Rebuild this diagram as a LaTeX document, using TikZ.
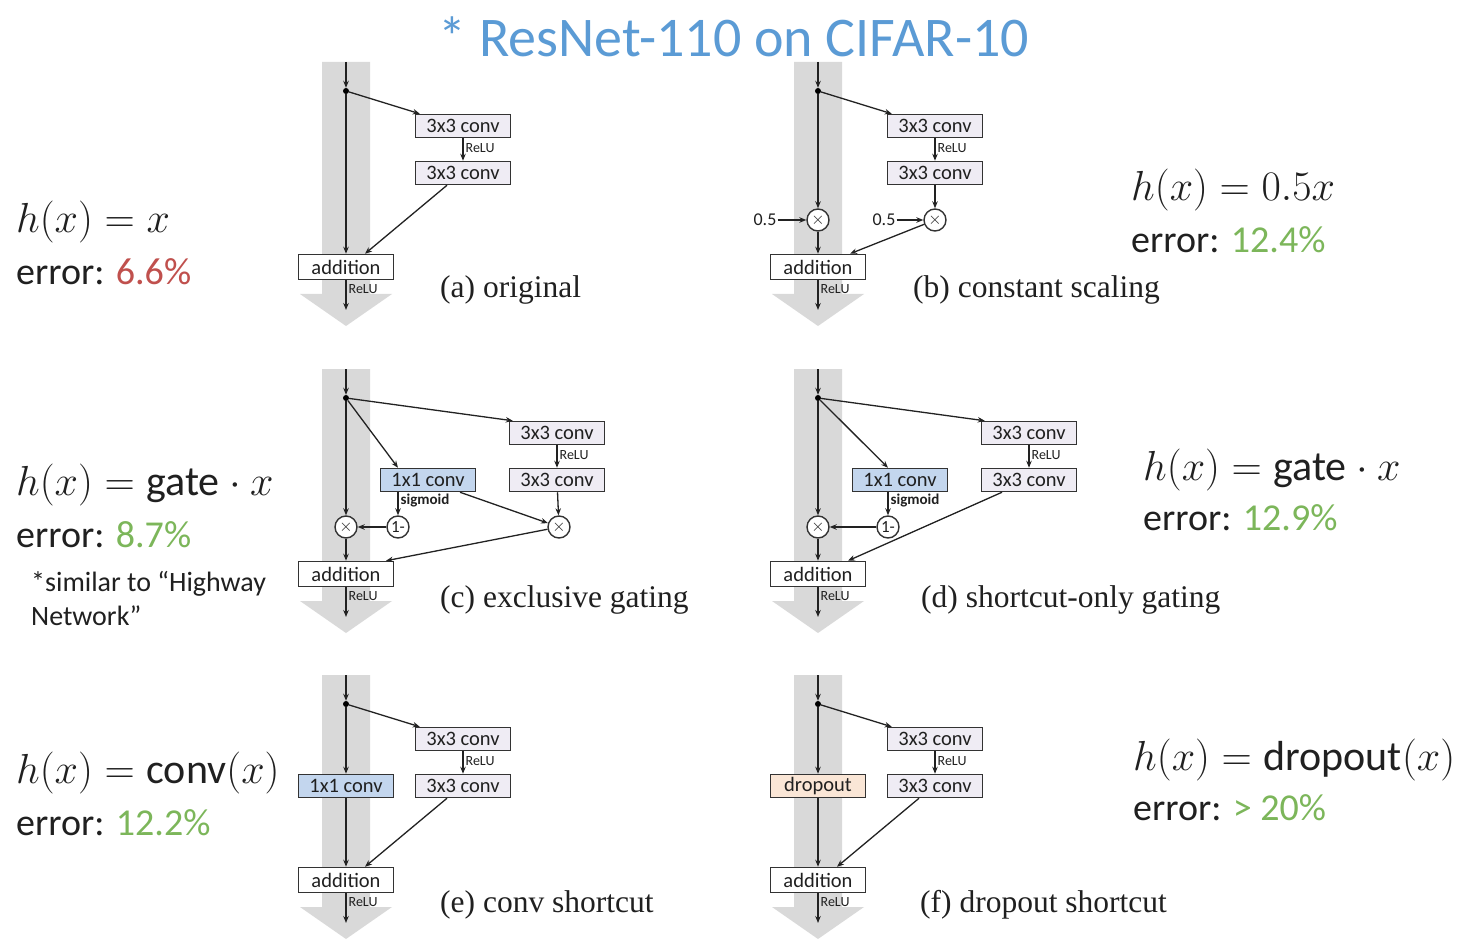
\RequirePackage{fix-cm}
\documentclass[tikz,border=0pt]{standalone}
\usepackage[no-math]{fontspec}
\setmainfont{Carlito}
\newfontfamily\serifl{Liberation Serif}
\usetikzlibrary{arrows.meta}
\definecolor{bandgray}{HTML}{D9D9D9}
\definecolor{linec}{HTML}{222222}
\definecolor{boxb}{HTML}{333333}
\definecolor{convfill}{HTML}{EFECF4}
\definecolor{gatefill}{HTML}{C3D6EE}
\definecolor{dropfill}{HTML}{FAE6D6}
\definecolor{titleblue}{HTML}{5B9BD5}
\definecolor{errred}{HTML}{C0504D}
\definecolor{errgreen}{HTML}{7CB65A}
\definecolor{txt}{HTML}{202020}
\newcommand{\fs}[1]{\fontsize{#1}{#1}\selectfont}
\tikzset{
  band/.style={fill=bandgray, draw=none},
  conv/.style={draw=boxb, line width=1.5pt, fill=convfill, minimum width=95pt, minimum height=23pt, inner sep=0pt, font=\fs{20.5}, text=txt},
  gatebox/.style={conv, fill=gatefill},
  dropbox/.style={conv, fill=dropfill},
  addbox/.style={conv, fill=white, minimum height=25pt},
  op/.style={circle, draw=boxb, line width=1.4pt, minimum size=22pt, inner sep=0pt, fill=white, font=\fs{17}, text=txt},
  arr/.style={-{Stealth[length=7pt,width=5.5pt]}, line width=1.3pt, draw=linec},
  dotn/.style={circle, fill=black, inner sep=0pt, minimum size=6pt},
  relu/.style={font=\fs{14}, text=txt, inner sep=2pt},
  sig/.style={font=\fs{15}\bfseries, text=txt, inner sep=2pt},
  formula/.style={anchor=west, font=\fs{42}, text=txt, inner sep=0pt},
  errt/.style={anchor=west, font=\fs{38}, text=txt, inner sep=0pt},
  plabel/.style={anchor=west, font=\serifl\fs{31.5}, text=txt, inner sep=0pt},
}
\begin{document}
\begin{tikzpicture}[x=1pt,y=-1pt]
\useasboundingbox (0,0) rectangle (1468,952);
\fill[white] (0,0) rectangle (1468,952);

% title
\node[font=\fs{56}, text=titleblue, inner sep=0pt] (title) at (734,37) {* ResNet-110 on CIFAR-10};

% ---------- (a) original ----------
\begin{scope}
\fill[band] (322,62) -- (370,62) -- (370,294) -- (392,294) -- (346,326) -- (300,294) -- (322,294) -- cycle;
\coordinate (a-top) at (346,62);
\node[dotn] (a-dot) at (346,91) {};
\node[conv] (a-c1) at (463,126) {3x3 conv};
\node[conv] (a-c2) at (463,173) {3x3 conv};
\node[addbox] (a-add) at (346,267) {addition};
\coordinate (a-out) at (346,310);
\draw[arr] (a-top) -- (a-dot);
\draw[arr] (a-dot) -- ([xshift=5pt]a-c1.north west);
\draw[arr] (a-c1) -- node[relu, right, pos=0.45]{ReLU} (a-c2);
\draw[arr] (a-dot) -- (a-add);
\draw[arr] ([xshift=-16pt]a-c2.south) -- ([xshift=19pt]a-add.north);
\draw[arr] (a-add) -- node[relu, right, pos=0.3]{ReLU} (a-out);
\end{scope}

% ---------- (b) constant scaling ----------
\begin{scope}[shift={(472,0)}]
\fill[band] (322,62) -- (370,62) -- (370,294) -- (392,294) -- (346,326) -- (300,294) -- (322,294) -- cycle;
\coordinate (b-top) at (346,62);
\node[dotn] (b-dot) at (346,91) {};
\node[conv] (b-c1) at (463,126) {3x3 conv};
\node[conv] (b-c2) at (463,173) {3x3 conv};
\node[op] (b-m1) at (346,220) {$\times$};
\node[op] (b-m2) at (463,220) {$\times$};
\node[font=\fs{18}, text=txt, inner sep=1pt] (b-h1) at (293,220) {0.5};
\node[font=\fs{18}, text=txt, inner sep=1pt] (b-h2) at (412,220) {0.5};
\node[addbox] (b-add) at (346,267) {addition};
\coordinate (b-out) at (346,310);
\draw[arr] (b-top) -- (b-dot);
\draw[arr] (b-dot) -- ([xshift=5pt]b-c1.north west);
\draw[arr] (b-c1) -- node[relu, right, pos=0.45]{ReLU} (b-c2);
\draw[arr] (b-c2) -- (b-m2);
\draw[arr] (b-dot) -- (b-m1);
\draw[arr] (b-h1) -- (b-m1);
\draw[arr] (b-h2) -- (b-m2);
\draw[arr] (b-m1) -- (b-add);
\draw[arr] (b-m2) -- ([xshift=32pt]b-add.north);
\draw[arr] (b-add) -- node[relu, right, pos=0.3]{ReLU} (b-out);
\end{scope}

% ---------- (c) exclusive gating ----------
\begin{scope}[shift={(0,307)}]
\fill[band] (322,62) -- (370,62) -- (370,294) -- (392,294) -- (346,326) -- (300,294) -- (322,294) -- cycle;
\coordinate (c-top) at (346,62);
\node[dotn] (c-dot) at (346,91) {};
\node[conv] (c-c1) at (557,126) {3x3 conv};
\node[conv] (c-c2) at (557,173) {3x3 conv};
\node[gatebox] (c-g) at (428,173) {1x1 conv};
\node[op] (c-one) at (398,220) {1-};
\node[op] (c-xl) at (346,220) {$\times$};
\node[op] (c-xr) at (559,220) {$\times$};
\node[addbox] (c-add) at (346,267) {addition};
\coordinate (c-out) at (346,310);
\draw[arr] (c-top) -- (c-dot);
\draw[arr] (c-dot) -- ([xshift=4pt]c-c1.north west);
\draw[arr] (c-dot) -- ([xshift=-30pt]c-g.north);
\draw[arr] (c-c1) -- node[relu, right, pos=0.45]{ReLU} (c-c2);
\draw[arr] ([xshift=-30pt]c-g.south) -- node[sig, right, pos=0.35]{sigmoid} (c-one);
\draw[arr] (c-one) -- (c-xl);
\draw[arr] (c-dot) -- (c-xl);
\draw[arr] (c-xl) -- (c-add);
\draw[arr] (c-c2) -- (c-xr);
\draw[arr] ([xshift=32pt]c-g.south) -- (c-xr);
\draw[arr] (c-xr) -- ([xshift=40pt]c-add.north);
\draw[arr] (c-add) -- node[relu, right, pos=0.3]{ReLU} (c-out);
\end{scope}

% ---------- (d) shortcut-only gating ----------
\begin{scope}[shift={(472,307)}]
\fill[band] (322,62) -- (370,62) -- (370,294) -- (392,294) -- (346,326) -- (300,294) -- (322,294) -- cycle;
\coordinate (d-top) at (346,62);
\node[dotn] (d-dot) at (346,91) {};
\node[conv] (d-c1) at (557,126) {3x3 conv};
\node[conv] (d-c2) at (557,173) {3x3 conv};
\node[gatebox] (d-g) at (428,173) {1x1 conv};
\node[op] (d-one) at (416,220) {1-};
\node[op] (d-xl) at (346,220) {$\times$};
\node[addbox] (d-add) at (346,267) {addition};
\coordinate (d-out) at (346,310);
\draw[arr] (d-top) -- (d-dot);
\draw[arr] (d-dot) -- ([xshift=4pt]d-c1.north west);
\draw[arr] (d-dot) -- ([xshift=-12pt]d-g.north);
\draw[arr] (d-c1) -- node[relu, right, pos=0.45]{ReLU} (d-c2);
\draw[arr] ([xshift=-12pt]d-g.south) -- node[sig, right, pos=0.35]{sigmoid} (d-one);
\draw[arr] (d-one) -- (d-xl);
\draw[arr] (d-dot) -- (d-xl);
\draw[arr] (d-xl) -- (d-add);
\draw[arr] ([xshift=-27pt]d-c2.south) -- ([xshift=30pt]d-add.north);
\draw[arr] (d-add) -- node[relu, right, pos=0.3]{ReLU} (d-out);
\end{scope}

% ---------- (e) conv shortcut ----------
\begin{scope}[shift={(0,613)}]
\fill[band] (322,62) -- (370,62) -- (370,294) -- (392,294) -- (346,326) -- (300,294) -- (322,294) -- cycle;
\coordinate (e-top) at (346,62);
\node[dotn] (e-dot) at (346,91) {};
\node[conv] (e-c1) at (463,126) {3x3 conv};
\node[conv] (e-c2) at (463,173) {3x3 conv};
\node[gatebox] (e-g) at (346,173) {1x1 conv};
\node[addbox] (e-add) at (346,267) {addition};
\coordinate (e-out) at (346,310);
\draw[arr] (e-top) -- (e-dot);
\draw[arr] (e-dot) -- ([xshift=5pt]e-c1.north west);
\draw[arr] (e-c1) -- node[relu, right, pos=0.45]{ReLU} (e-c2);
\draw[arr] (e-dot) -- (e-g);
\draw[arr] (e-g) -- (e-add);
\draw[arr] ([xshift=-16pt]e-c2.south) -- ([xshift=19pt]e-add.north);
\draw[arr] (e-add) -- node[relu, right, pos=0.3]{ReLU} (e-out);
\end{scope}

% ---------- (f) dropout shortcut ----------
\begin{scope}[shift={(472,613)}]
\fill[band] (322,62) -- (370,62) -- (370,294) -- (392,294) -- (346,326) -- (300,294) -- (322,294) -- cycle;
\coordinate (f-top) at (346,62);
\node[dotn] (f-dot) at (346,91) {};
\node[conv] (f-c1) at (463,126) {3x3 conv};
\node[conv] (f-c2) at (463,173) {3x3 conv};
\node[dropbox] (f-g) at (346,173) {dropout};
\node[addbox] (f-add) at (346,267) {addition};
\coordinate (f-out) at (346,310);
\draw[arr] (f-top) -- (f-dot);
\draw[arr] (f-dot) -- ([xshift=5pt]f-c1.north west);
\draw[arr] (f-c1) -- node[relu, right, pos=0.45]{ReLU} (f-c2);
\draw[arr] (f-dot) -- (f-g);
\draw[arr] (f-g) -- (f-add);
\draw[arr] ([xshift=-16pt]f-c2.south) -- ([xshift=19pt]f-add.north);
\draw[arr] (f-add) -- node[relu, right, pos=0.3]{ReLU} (f-out);
\end{scope}

% ---------- panel labels ----------
\node[plabel] (la) at (440,290) {(a) original};
\node[plabel] (lb) at (913,290) {(b) constant scaling};
\node[plabel] (lc) at (440,600) {(c) exclusive gating};
\node[plabel] (ld) at (921,600) {(d) shortcut-only gating};
\node[plabel] (le) at (440,905) {(e) conv shortcut};
\node[plabel] (lf) at (920,905) {(f) dropout shortcut};

% ---------- formulas and errors ----------
\node[formula] (fa) at (16,222) {$h(x) = x$};
\node[errt] (ea) at (16,272) {error: \textcolor{errred}{6.6\%}};
\node[formula] (fb) at (1131,190) {$h(x) = 0.5x$};
\node[errt] (eb) at (1131,240) {error: \textcolor{errgreen}{12.4\%}};
\node[formula] (fc) at (16,485) {$h(x) = \mbox{gate} \cdot x$};
\node[errt] (ec) at (16,535) {error: \textcolor{errgreen}{8.7\%}};
\node[anchor=north west, align=left, font=\fs{28}, text=txt, inner sep=0pt] (nc) at (31,571) {*similar to “Highway\\[6pt]Network”};
\node[formula] (fd) at (1143,470) {$h(x) = \mbox{gate} \cdot x$};
\node[errt] (ed) at (1143,518) {error: \textcolor{errgreen}{12.9\%}};
\node[formula] (fe) at (16,773) {$h(x) = \mbox{conv}(x)$};
\node[errt] (ee) at (16,823) {error: \textcolor{errgreen}{12.2\%}};
\node[formula] (ff) at (1133,760) {$h(x) = \mbox{dropout}(x)$};
\node[errt] (ef) at (1133,808) {error: \textcolor{errgreen}{> 20\%}};
\end{tikzpicture}
\end{document}
